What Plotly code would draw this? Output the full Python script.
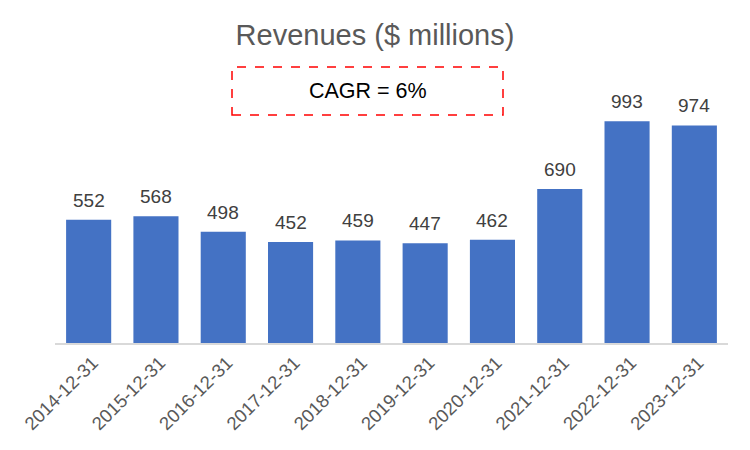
import plotly.graph_objects as go

categories = ["2014-12-31", "2015-12-31", "2016-12-31", "2017-12-31", "2018-12-31",
              "2019-12-31", "2020-12-31", "2021-12-31", "2022-12-31", "2023-12-31"]
revenues = [552, 568, 498, 452, 459, 447, 462, 690, 993, 974]
title_text = "Revenues ($ millions)"
cagr_text = "CAGR = 6%"

FONT = "Arial, Liberation Sans, sans-serif"
W, H = 750, 450
L, R, T, B = 55, 22, 75, 107
pw, ph = W - L - R, H - T - B

def px_x(x):
    return (x - L) / pw

def px_y(y):
    return (H - B - y) / ph

fig = go.Figure(go.Bar(
    x=categories, y=revenues,
    marker=dict(color="#4472C4", line=dict(width=0)),
))

for c, v in zip(categories, revenues):
    fig.add_annotation(x=c, y=v, text=str(v), showarrow=False, yanchor="bottom",
                       yshift=7, font=dict(family=FONT, size=19, color="#404040"))

fig.update_layout(
    width=W, height=H,
    margin=dict(l=L, r=R, t=T, b=B),
    paper_bgcolor="white", plot_bgcolor="white",
    bargap=0.33,
    showlegend=False,
    title=dict(text=title_text, x=0.5, xanchor="center", y=1 - 35 / H, yanchor="middle",
               font=dict(family=FONT, size=29, color="#595959")),
    xaxis=dict(type="category", tickangle=-45, automargin=False, ticklabelshift=4,
               tickfont=dict(family=FONT, size=18.5, color="#595959"),
               showline=True, linecolor="#D9D9D9", linewidth=1.5, ticks="", showgrid=False),
    yaxis=dict(range=[0, 1200], visible=False, showgrid=False, zeroline=False),
)

fig.add_shape(type="rect", xref="paper", yref="paper",
              x0=px_x(232), x1=px_x(503), y0=px_y(115), y1=px_y(67),
              line=dict(color="#FF0000", width=1.5, dash="dash"), fillcolor="rgba(0,0,0,0)")
fig.add_annotation(xref="paper", yref="paper", x=px_x(367.5), y=px_y(91),
                   text=cagr_text, showarrow=False, xanchor="center", yanchor="middle",
                   font=dict(family=FONT, size=21.5, color="#000000"))

fig.write_html("out.html", config={"displayModeBar": False},
               post_script="document.body.style.margin='0';")
